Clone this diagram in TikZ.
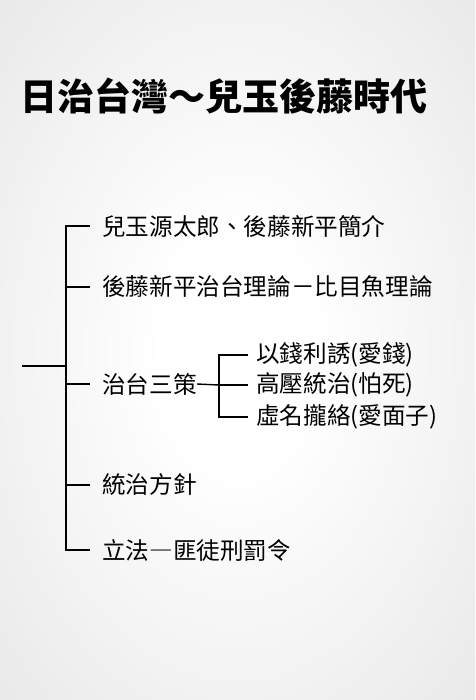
\documentclass[tikz,border=0pt]{standalone}
\usepackage{fontspec}
\setmainfont{Noto Sans CJK TC}
\pgfdeclareradialshading{slidebg}{\pgfpoint{0bp}{0bp}}{color(0bp)=(white); color(8bp)=(white); color(50bp)=(black!13); color(72bp)=(black!19)}
\tikzset{
  lbl/.style={anchor=west, inner sep=0pt, font=\fontsize{23.6}{26}\selectfont, text=black},
  ttl/.style={anchor=west, inner sep=0pt, font=\fontsize{37}{40}\selectfont\bfseries, text=black},
  conn/.style={line width=1.4pt, draw=black}
}
\begin{document}
\begin{tikzpicture}[x=1pt,y=-1pt]
\useasboundingbox (0,0) rectangle (475,700);
\shade[shading=slidebg] (0,0) rectangle (475,700);
% title
\node[ttl] (title) at (20,96) {日治台灣～兒玉後藤時代};
% main items
\node[lbl] (n1) at (102,226) {兒玉源太郎、後藤新平簡介};
\node[lbl] (n2) at (102,287) {後藤新平治台理論－比目魚理論};
\node[lbl] (n3) at (102,384) {治台三策};
\node[lbl] (n4) at (102,485) {統治方針};
\node[lbl] (n5) at (102,550) {立法―匪徒刑罰令};
% sub items
\node[lbl] (s1) at (256,355) {以錢利誘(愛錢)};
\node[lbl] (s2) at (256,385) {高壓統治(怕死)};
\node[lbl] (s3) at (256,417) {虛名攏絡(愛面子)};
% connectors
\coordinate (root) at (22,366);
\coordinate (fork) at (66,366);
\coordinate (subfork) at (219,385);
\draw[conn] (root) -- (fork);
\foreach \n in {n1,n2,n3,n4,n5}{
  \draw[conn, shorten <=12pt] (\n.west) -| (fork);
}
\draw[conn] (n3.east) -- (subfork);
\foreach \n in {s1,s2,s3}{
  \draw[conn, shorten <=8pt] (\n.west) -| (subfork);
}
\end{tikzpicture}
\end{document}
